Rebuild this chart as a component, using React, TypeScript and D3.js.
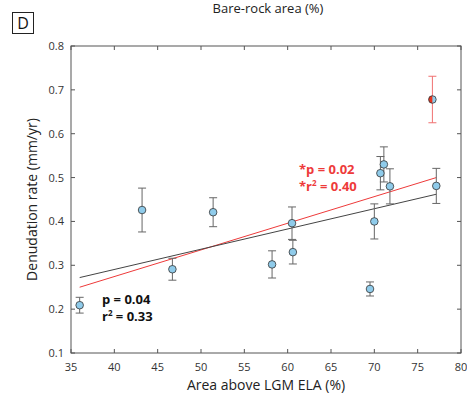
import React from 'react';
import * as d3 from 'd3';

// area above LGM ELA (%), denudation rate (mm/yr), 1-sigma error
const areaAboveEla = [36.0, 43.2, 46.7, 51.4, 58.2, 60.5, 60.6, 69.5, 70.0, 70.7, 71.1, 71.8, 77.15];
const denudation = [0.209, 0.426, 0.291, 0.421, 0.302, 0.396, 0.330, 0.246, 0.400, 0.510, 0.530, 0.480, 0.481];
const denudationErr = [0.018, 0.05, 0.025, 0.033, 0.031, 0.037, 0.027, 0.016, 0.04, 0.038, 0.04, 0.04, 0.04];

// the outlier, drawn half red
const outlierArea = [76.7];
const outlierRate = [0.678];
const outlierErr = [0.053];

// fitted lines: [x0, y0, x1, y1]
const fitAll = [36.0, 0.272, 77.15, 0.462];
const fitRed = [36.0, 0.25, 77.15, 0.5];

const xTicks = [35, 40, 45, 50, 55, 60, 65, 70, 75, 80];
const yTicks = [0.1, 0.2, 0.3, 0.4, 0.5, 0.6, 0.7, 0.8];

const W = 467;
const H = 406;
const m = { left: 71, right: 461, top: 46, bottom: 353 };
const font = '"Open Sans", "Noto Sans", sans-serif';
const axisColor = '#555';
const pointFill = '#8fcbea';
const red = '#ee3a3a';

export default function App() {
  const x = d3.scaleLinear().domain([35, 80]).range([m.left, m.right]);
  const y = d3.scaleLinear().domain([0.1, 0.8]).range([m.bottom, m.top]);
  const tick = 4;
  const cap = 4;

  const line = d3.line<number[]>().x(d => x(d[0])).y(d => y(d[1]));
  const seg = (f: number[]) => line([[f[0], f[1]], [f[2], f[3]]]) || '';

  const leftHalf = (cx: number, cy: number, r: number) =>
    `M${cx},${cy - r} A${r},${r} 0 0 0 ${cx},${cy + r} Z`;

  return (
    <div style={{ position: 'absolute', left: 0, top: 0 }}>
      <svg width={W} height={H} style={{ display: 'block', background: '#fff' }} fontFamily={font}>
        {/* panel letter */}
        <rect x={12.5} y={12.5} width={21} height={21} fill="none" stroke="#222" strokeWidth={1} />
        <text x={23} y={28.5} textAnchor="middle" fontSize={16} fill="#111">D</text>

        <text x={268} y={13} textAnchor="middle" fontSize={13} fill="#222">Bare-rock area (%)</text>

        {/* frame */}
        <rect x={m.left} y={m.top} width={m.right - m.left} height={m.bottom - m.top}
          fill="none" stroke={axisColor} strokeWidth={1} />

        {xTicks.map(t => (
          <g key={'x' + t}>
            <line x1={x(t)} x2={x(t)} y1={m.bottom} y2={m.bottom - tick} stroke={axisColor} />
            <line x1={x(t)} x2={x(t)} y1={m.top} y2={m.top + tick} stroke={axisColor} />
            <text x={x(t)} y={371} textAnchor="middle" fontSize={11} fill="#333">{t}</text>
          </g>
        ))}
        {yTicks.map(t => (
          <g key={'y' + t}>
            <line x1={m.left} x2={m.left + tick} y1={y(t)} y2={y(t)} stroke={axisColor} />
            <line x1={m.right} x2={m.right - tick} y1={y(t)} y2={y(t)} stroke={axisColor} />
            <text x={64} y={y(t) + 4} textAnchor="end" fontSize={11} fill="#333">{d3.format('.1f')(t)}</text>
          </g>
        ))}

        <text x={(m.left + m.right) / 2} y={390} textAnchor="middle" fontSize={14} fill="#222">Area above LGM ELA (%)</text>
        <text transform={`translate(37,${(m.top + m.bottom) / 2}) rotate(-90)`} textAnchor="middle"
          fontSize={14} fill="#222">Denudation rate (mm/yr)</text>

        {/* regression lines */}
        <path d={seg(fitRed)} stroke={red} strokeWidth={1} fill="none" />
        <path d={seg(fitAll)} stroke="#444" strokeWidth={1} fill="none" />

        {/* error bars */}
        {areaAboveEla.map((a, i) => {
          const cx = x(a);
          const y0 = y(denudation[i] - denudationErr[i]);
          const y1 = y(denudation[i] + denudationErr[i]);
          return (
            <g key={'e' + i} stroke="#666" strokeWidth={1}>
              <line x1={cx} x2={cx} y1={y0} y2={y1} />
              <line x1={cx - cap} x2={cx + cap} y1={y0} y2={y0} />
              <line x1={cx - cap} x2={cx + cap} y1={y1} y2={y1} />
            </g>
          );
        })}
        {outlierArea.map((a, i) => {
          const cx = x(a);
          const y0 = y(outlierRate[i] - outlierErr[i]);
          const y1 = y(outlierRate[i] + outlierErr[i]);
          return (
            <g key={'oe' + i} stroke="#f07070" strokeWidth={1}>
              <line x1={cx} x2={cx} y1={y0} y2={y1} />
              <line x1={cx - cap} x2={cx + cap} y1={y0} y2={y0} />
              <line x1={cx - cap} x2={cx + cap} y1={y1} y2={y1} />
            </g>
          );
        })}

        {/* points */}
        {areaAboveEla.map((a, i) => (
          <circle key={'p' + i} cx={x(a)} cy={y(denudation[i])} r={3.8}
            fill={pointFill} stroke="#333" strokeWidth={0.8} />
        ))}
        {outlierArea.map((a, i) => (
          <g key={'op' + i}>
            <circle cx={x(a)} cy={y(outlierRate[i])} r={3.8} fill={pointFill} />
            <path d={leftHalf(x(a), y(outlierRate[i]), 3.8)} fill="#e8341c" />
            <circle cx={x(a)} cy={y(outlierRate[i])} r={3.8} fill="none" stroke="#333" strokeWidth={0.8} />
          </g>
        ))}

        {/* stats */}
        <g fontSize={13} fontWeight="bold">
          <text x={102} y={304} fill="#111">p = 0.04</text>
          <text x={102} y={321} fill="#111">r<tspan dy={-5} fontSize={8}>2</tspan><tspan dy={5}> = 0.33</tspan></text>
          <text x={299} y={174} fill={red}>*p = 0.02</text>
          <text x={299} y={191} fill={red}>*r<tspan dy={-5} fontSize={8}>2</tspan><tspan dy={5}> = 0.40</tspan></text>
        </g>
      </svg>
    </div>
  );
}
